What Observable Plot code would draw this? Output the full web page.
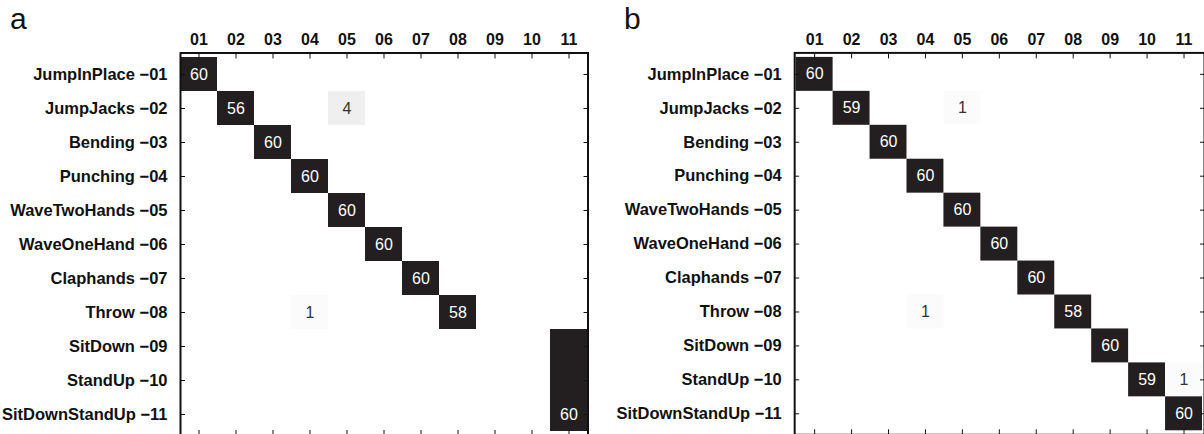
<!DOCTYPE html>
<html>
<head>
<meta charset="utf-8">
<script src="https://cdn.jsdelivr.net/npm/d3@7"></script>
<script src="https://cdn.jsdelivr.net/npm/@observablehq/plot@0.6"></script>
<style>
  html, body { margin: 0; padding: 0; background: #fff; }
  #wrap { position: relative; width: 1204px; height: 434px; overflow: hidden; font-family: "Liberation Sans", Arial, sans-serif; }
  .panel { position: absolute; top: 0; }
  .plabel { position: absolute; top: 4px; font-size: 30px; line-height: 29px; color: #111; }
</style>
</head>
<body>
<div id="wrap">
  <div class="panel" id="pa" style="left:0px"><div class="plabel" style="left:10px">a</div></div>
  <div class="panel" id="pb" style="left:602px"><div class="plabel" style="left:22px">b</div></div>
</div>
<script>
// Class names and codes
const classNames = ["JumpInPlace","JumpJacks","Bending","Punching","WaveTwoHands","WaveOneHand","Claphands","Throw","SitDown","StandUp","SitDownStandUp"];
const classCodes = ["01","02","03","04","05","06","07","08","09","10","11"];

// Panel a: non-zero confusion entries (actual row, predicted column, count, shown label)
const aActual = ["01","02","02","03","04","05","06","07","08","08","09","10","11"];
const aPred   = ["01","02","05","03","04","05","06","07","08","04","11","11","11"];
const aValue  = [60, 56, 4, 60, 60, 60, 60, 60, 58, 1, 60, 60, 60];
const aLabel  = ["60","56","4","60","60","60","60","60","58","1","","","60"];

// Panel b
const bActual = ["01","02","02","03","04","05","06","07","08","08","09","10","10","11"];
const bPred   = ["01","02","05","03","04","05","06","07","08","04","09","10","11","11"];
const bValue  = [60, 59, 1, 60, 60, 60, 60, 60, 58, 1, 60, 59, 1, 60];
const bLabel  = ["60","59","1","60","60","60","60","60","58","1","60","59","1","60"];

const rowName = code => `${classNames[classCodes.indexOf(code)]} \u2212${code}`;

function makePanel(actual, pred, value, label, opts) {
  const data = actual.map((a, i) => ({actual: a, pred: pred[i], value: value[i], label: label[i]}));
  return Plot.plot({
    width: opts.width,
    height: 435,
    marginLeft: opts.marginLeft,
    marginRight: opts.marginRight,
    marginTop: 52.5,
    marginBottom: 0,
    style: {fontFamily: "'Liberation Sans', Arial, sans-serif", background: "white", overflow: "visible"},
    x: {domain: classCodes, padding: 0, axis: null, label: null},
    y: {domain: classCodes, padding: 0, axis: null, label: null},
    color: {type: "linear", domain: [0, 56], clamp: true, range: ["#ffffff", "#231f20"]},
    marks: [
      Plot.cell(data, {x: "pred", y: "actual", fill: "value", inset: 0}),
      Plot.text(data, {x: "pred", y: "actual", text: "label", fontSize: 16,
        fill: d => d.value > 30 ? "#ffffff" : "#333333"}),
      // labels
      Plot.axisX({anchor: "top", label: null, tickSize: 0, tickPadding: 8, fontSize: 16, fontWeight: "bold", fill: "#111"}),
      Plot.axisY({anchor: "left", label: null, tickSize: 0, tickPadding: 13, fontSize: 16.5, fontWeight: "bold", fill: "#111", tickFormat: rowName}),
      // inward ticks
      Plot.axisX({anchor: "top", label: null, tickSize: -5, text: null, stroke: "#111"}),
      Plot.axisX({anchor: "bottom", label: null, tickSize: -5, text: null, stroke: "#111"}),
      Plot.axisY({anchor: "left", label: null, tickSize: -5, text: null, stroke: "#111"}),
      Plot.axisY({anchor: "right", label: null, tickSize: -5, text: null, stroke: "#111"}),
      Plot.frame({stroke: "#111", strokeWidth: 2})
    ]
  });
}

document.getElementById("pa").appendChild(makePanel(aActual, aPred, aValue, aLabel, {width: 602, marginLeft: 180, marginRight: 14.5}));
document.getElementById("pb").appendChild(makePanel(bActual, bPred, bValue, bLabel, {width: 603, marginLeft: 192.5, marginRight: 0}));
</script>
</body>
</html>
